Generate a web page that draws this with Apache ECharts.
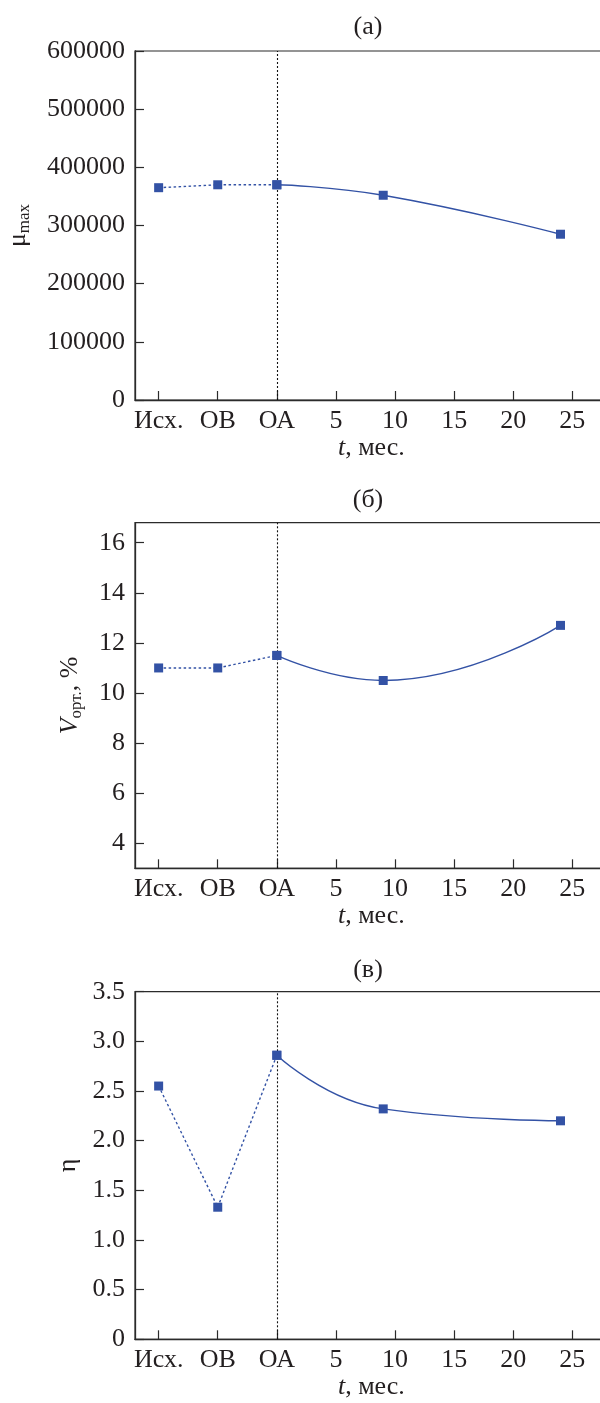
<!DOCTYPE html>
<html><head><meta charset="utf-8">
<script src="https://cdn.jsdelivr.net/npm/echarts@6/dist/echarts.min.js"></script>
<style>html,body{margin:0;padding:0;background:#fff}#c{width:600px;height:1403px}</style>
</head><body><div id="c"></div>
<script>
// ---- data ----
const xTickValues = [-10, -5, 0, 5, 10, 15, 20, 25];
const xTickLabels = ['Исх.', 'ОВ', 'ОА', '5', '10', '15', '20', '25'];
const pointX = [-10, -5, 0, 9, 24];
const muMax = [365000, 370000, 370000, 352000, 285000];
const vOrt = [11.0, 11.0, 11.5, 10.5, 12.7];
const eta = [2.55, 1.33, 2.86, 2.32, 2.20];
const panelTitles = ['(а)', '(б)', '(в)'];
const yTicksA = [0, 100000, 200000, 300000, 400000, 500000, 600000];
const yTicksB = [4, 6, 8, 10, 12, 14, 16];
const yTicksC = [0, 0.5, 1.0, 1.5, 2.0, 2.5, 3.0, 3.5];

// ---- style ----
const FONT = '"Liberation Serif", "DejaVu Serif", serif';
const TXT = '#231f20';
const BLUE = '#3352a5';
const AX = '#2b2b2b';

const chart = echarts.init(document.getElementById('c'), null, {renderer: 'canvas'});

const grids = [
  {left: 135, top: 51, width: 472.8, height: 349},
  {left: 135, top: 522.7, width: 472.8, height: 345.6},
  {left: 135, top: 991.7, width: 472.8, height: 347.6}
].map(g => Object.assign(g, {show: true, borderColor: AX, borderWidth: 1.2, backgroundColor: 'transparent', containLabel: false, outerBoundsMode: 'none'}));

const xLabelMap = {};
xTickValues.forEach((v, i) => xLabelMap[v] = xTickLabels[i]);

function xAxisFor(i) {
  return {
    type: 'value', gridIndex: i, min: -12, max: 28,
    axisLine: {show: true, onZero: false, lineStyle: {color: AX, width: 1.3}},
    axisTick: {show: true, inside: true, length: 9, customValues: xTickValues, lineStyle: {color: AX, width: 1.2}},
    axisLabel: {customValues: xTickValues, formatter: v => xLabelMap[v] ?? String(v), margin: 8,
      fontFamily: FONT, fontSize: 26, color: TXT},
    splitLine: {show: false},
    name: '{it|t}{n|, мес.}', nameLocation: 'middle', nameGap: 32,
    nameTextStyle: {fontFamily: FONT, fontSize: 26, color: TXT,
      rich: {it: {fontFamily: FONT, fontSize: 26, fontStyle: 'italic', color: TXT}, n: {fontFamily: FONT, fontSize: 26, color: TXT}}}
  };
}

function yAxisFor(i, min, max, ticks, fmt, name, nameGap, rich) {
  return {
    type: 'value', gridIndex: i, min: min, max: max,
    axisLine: {show: true, onZero: false, lineStyle: {color: AX, width: 1.3}},
    axisTick: {show: true, inside: true, length: 9, customValues: ticks, lineStyle: {color: AX, width: 1.2}},
    axisLabel: {customValues: ticks, formatter: fmt, margin: 10, fontFamily: FONT, fontSize: 26, color: TXT},
    splitLine: {show: false},
    name: name, nameLocation: 'middle', nameRotate: 90, nameGap: nameGap,
    nameTextStyle: {fontFamily: FONT, fontSize: 26, color: TXT, rich: rich}
  };
}

const yAxes = [
  yAxisFor(0, 0, 600000, yTicksA, v => String(v), '{mu|μ}{sub|max}', 102,
    {mu: {fontFamily: FONT, fontSize: 26, color: TXT, lineHeight: 30}, sub: {fontFamily: FONT, fontSize: 17, color: TXT, verticalAlign: 'bottom', lineHeight: 17}}),
  yAxisFor(1, 3, 16.8, yTicksB, v => String(v), '{v|V}{sub|орт.}{n|, %}', 50,
    {v: {fontFamily: FONT, fontSize: 26, fontStyle: 'italic', color: TXT, lineHeight: 30}, sub: {fontFamily: FONT, fontSize: 17, color: TXT, verticalAlign: 'bottom', lineHeight: 17}, n: {fontFamily: FONT, fontSize: 26, color: TXT, lineHeight: 30}}),
  yAxisFor(2, 0, 3.5, yTicksC, v => v === 0 ? '0' : v.toFixed(1), '{e|η}', 52,
    {e: {fontFamily: FONT, fontSize: 26, color: TXT}})
];

function seriesFor(i, vals) {
  const pre = pointX.slice(0, 3).map((x, k) => [x, vals[k]]);
  const post = pointX.slice(2).map((x, k) => [x, vals[k + 2]]);
  return [
    {type: 'line', xAxisIndex: i, yAxisIndex: i, data: pre, symbol: 'rect', symbolSize: 9,
      itemStyle: {color: BLUE}, lineStyle: {color: BLUE, width: 1.4, type: [2.5, 2.5]}, z: 3, silent: true},
    {type: 'line', xAxisIndex: i, yAxisIndex: i, data: post, smooth: true, symbol: 'rect', symbolSize: 9,
      itemStyle: {color: BLUE}, lineStyle: {color: BLUE, width: 1.4}, z: 4, silent: true,
      markLine: {silent: true, symbol: 'none', label: {show: false}, z: 2,
        lineStyle: {color: '#111', width: 1.1, type: [2, 2]}, data: [{xAxis: 0}]}}
  ];
}

const titleY = [27, 500, 970];
const option = {
  animation: false,
  backgroundColor: '#fff',
  grid: grids,
  xAxis: [0, 1, 2].map(xAxisFor),
  yAxis: yAxes,
  series: [...seriesFor(0, muMax), ...seriesFor(1, vOrt), ...seriesFor(2, eta)],
  graphic: panelTitles.map((t, i) => ({
    type: 'text', x: 368, y: titleY[i],
    style: {text: t, font: '26px ' + FONT, fill: TXT, textAlign: 'center', textVerticalAlign: 'middle'}
  }))
};
chart.setOption(option);
</script></body></html>
